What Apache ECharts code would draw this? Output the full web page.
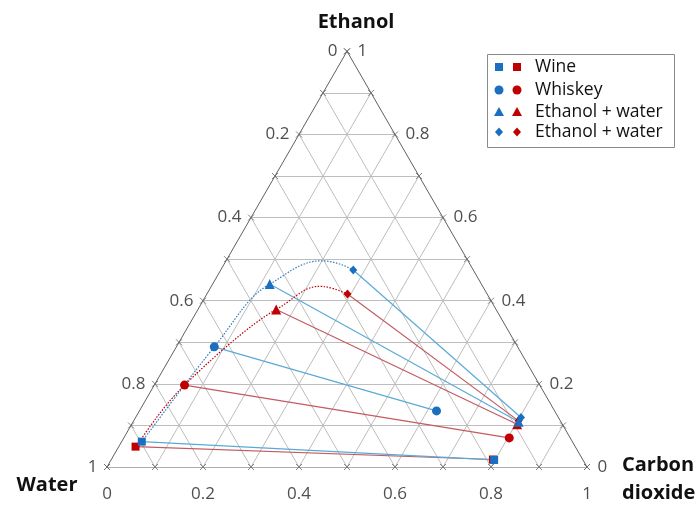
<!DOCTYPE html>
<html>
<head>
<meta charset="utf-8">
<script src="https://cdn.jsdelivr.net/npm/echarts@6/dist/echarts.min.js"></script>
<style>
html,body{margin:0;padding:0;background:#fff;}
#chart{width:696px;height:505px;}
</style>
</head>
<body>
<div id="chart"></div>
<script>
// ---- Data (ternary fractions) ----
const seriesNames = ['Wine', 'Whiskey', 'Ethanol + water', 'Ethanol + water'];
const blueLeftEthanol  = [0.061, 0.289, 0.440, 0.474];
const blueLeftCO2      = [0.042, 0.079, 0.119, 0.276];
const blueRightEthanol = [0.017, 0.135, 0.109, 0.119];
const blueRightCO2     = [0.798, 0.619, 0.803, 0.803];
const redLeftEthanol   = [0.049, 0.197, 0.379, 0.416];
const redLeftCO2       = [0.035, 0.063, 0.163, 0.293];
const redRightEthanol  = [0.018, 0.070, 0.103, 0.111];
const redRightCO2      = [0.795, 0.803, 0.803, 0.802];
const tickValues = [0, 0.2, 0.4, 0.6, 0.8, 1];
const tickLabels = ['0', '0.2', '0.4', '0.6', '0.8', '1'];
const gridSteps = [0.1, 0.2, 0.3, 0.4, 0.5, 0.6, 0.7, 0.8, 0.9];

// ---- styles ----
const BLUE = '#1a6fc0', RED = '#c00000';
const BLUE_LINE = '#5aaad6', RED_LINE = '#c45a62';
const shapes = ['rect', 'circle', 'triangle', 'diamond'];
const sizes = [8, 9, 10, [8, 9]];
const FONT = "'Open Sans', sans-serif";

const SQ = Math.sqrt(3) / 2;
function pt(e, c) { return [c + e / 2, e * SQ]; }

// grid lines
const gridLines = [];
gridSteps.forEach(k => {
  gridLines.push({coords: [pt(k, 0), pt(k, 1 - k)]});
  gridLines.push({coords: [pt(0, k), pt(1 - k, k)]});
  gridLines.push({coords: [pt(0, 1 - k), pt(1 - k, 0)]});
});
const edges = [
  {coords: [pt(0, 0), pt(0, 1)]},
  {coords: [pt(0, 1), pt(1, 0)]},
  {coords: [pt(1, 0), pt(0, 0)]}
];
const tickPts = [];
gridSteps.concat([0, 1]).forEach(k => {
  tickPts.push(pt(0, k));
  tickPts.push(pt(k, 0));
  tickPts.push(pt(k, 1 - k));
});

function tie(le, lc, re, rc) {
  return le.map((v, i) => ({coords: [pt(v, lc[i]), pt(re[i], rc[i])]}));
}

// smooth dotted curve (Catmull-Rom style Bezier) through the left-side points,
// the tangent at the last point uses its tie-line partner as the next neighbour
function curveSeries(le, lc, re, rc, color) {
  const pts = le.map((e, i) => pt(e, lc[i]));
  const after = pt(re[re.length - 1], rc[rc.length - 1]);
  return {
    type: 'custom', silent: true, z: 5,
    data: pts,
    encode: {x: 0, y: 1},
    renderItem: function (params, api) {
      if (params.dataIndex !== 0) return null;
      const P = pts.map(p => api.coord(p));
      const N = api.coord(after);
      const f = 1 / 6;
      let d = 'M' + P[0][0] + ' ' + P[0][1];
      for (let i = 0; i < P.length - 1; i++) {
        const p0 = i === 0 ? P[0] : P[i - 1];
        const p1 = P[i], p2 = P[i + 1];
        const p3 = i + 2 < P.length ? P[i + 2] : N;
        const c1 = [p1[0] + (p2[0] - p0[0]) * f, p1[1] + (p2[1] - p0[1]) * f];
        const c2 = [p2[0] - (p3[0] - p1[0]) * f, p2[1] - (p3[1] - p1[1]) * f];
        d += ' C' + c1[0] + ' ' + c1[1] + ' ' + c2[0] + ' ' + c2[1] + ' ' + p2[0] + ' ' + p2[1];
      }
      return {type: 'path', shape: {pathData: d},
        style: {stroke: color, fill: null, lineWidth: 1.2, lineDash: [1.5, 1.5]}};
    }
  };
}

const series = [];
series.push({type: 'lines', coordinateSystem: 'cartesian2d', data: gridLines, silent: true,
  lineStyle: {color: '#bdbdbd', width: 1, opacity: 1}, z: 1});
series.push({type: 'lines', coordinateSystem: 'cartesian2d', data: edges, silent: true,
  lineStyle: {color: '#5f5f5f', width: 1, opacity: 1}, z: 2});
series.push({type: 'scatter', data: tickPts, silent: true, symbol: 'path://M0,0L10,10M10,0L0,10',
  symbolSize: 6, itemStyle: {color: 'none', borderColor: '#666', borderWidth: 1}, z: 2});

// tick labels
series.push({type: 'scatter', silent: true, symbolSize: 1, itemStyle: {color: 'rgba(0,0,0,0)'},
  data: tickValues.map((w, i) => ({value: pt(1 - w, 0), name: tickLabels[i]})),
  label: {show: true, position: 'left', distance: 9, formatter: '{b}', fontSize: 17, fontFamily: FONT, color: '#222'}, z: 3});
series.push({type: 'scatter', silent: true, symbolSize: 1, itemStyle: {color: 'rgba(0,0,0,0)'},
  data: tickValues.map((e, i) => ({value: pt(e, 1 - e), name: tickLabels[i]})),
  label: {show: true, position: 'right', distance: 10, formatter: '{b}', fontSize: 17, fontFamily: FONT, color: '#222'}, z: 3});
series.push({type: 'scatter', silent: true, symbolSize: 1, itemStyle: {color: 'rgba(0,0,0,0)'},
  data: tickValues.map((c, i) => ({value: pt(0, c), name: tickLabels[i]})),
  label: {show: true, position: 'bottom', distance: 18, formatter: '{b}', fontSize: 17, fontFamily: FONT, color: '#222'}, z: 3});

// tie lines
series.push({type: 'lines', coordinateSystem: 'cartesian2d', silent: true,
  data: tie(redLeftEthanol, redLeftCO2, redRightEthanol, redRightCO2),
  lineStyle: {color: RED_LINE, width: 1.2, opacity: 1}, z: 4});
series.push({type: 'lines', coordinateSystem: 'cartesian2d', silent: true,
  data: tie(blueLeftEthanol, blueLeftCO2, blueRightEthanol, blueRightCO2),
  lineStyle: {color: BLUE_LINE, width: 1.2, opacity: 1}, z: 4});

// dotted curves
series.push(curveSeries(redLeftEthanol, redLeftCO2, redRightEthanol, redRightCO2, RED));
series.push(curveSeries(blueLeftEthanol, blueLeftCO2, blueRightEthanol, blueRightCO2, '#2a7cc6'));

// markers (red first so blue sits on top)
shapes.forEach((s, i) => {
  series.push({type: 'scatter', name: seriesNames[i], symbol: s, symbolSize: sizes[i],
    itemStyle: {color: RED, opacity: 1},
    data: [pt(redLeftEthanol[i], redLeftCO2[i]), pt(redRightEthanol[i], redRightCO2[i])], z: 6});
});
shapes.forEach((s, i) => {
  series.push({type: 'scatter', name: seriesNames[i], symbol: s, symbolSize: sizes[i],
    itemStyle: {color: BLUE, opacity: 1},
    data: [pt(blueLeftEthanol[i], blueLeftCO2[i]), pt(blueRightEthanol[i], blueRightCO2[i])], z: 7});
});

// legend built as graphics
const legendX = 487, legendY = 54, rowY = [67, 90, 112, 132];
const legendGraphics = [{type: 'rect', shape: {x: legendX + 0.5, y: legendY + 0.5, width: 187, height: 93},
  style: {fill: '#fff', stroke: '#8a8a8a', lineWidth: 1}, z: 10}];
function legendIcon(kind, cx, cy, color) {
  if (kind === 'rect') return {type: 'rect', shape: {x: cx - 4, y: cy - 4, width: 8, height: 8}, style: {fill: color}, z: 11};
  if (kind === 'circle') return {type: 'circle', shape: {cx: cx, cy: cy, r: 4.5}, style: {fill: color}, z: 11};
  if (kind === 'triangle') return {type: 'polygon', shape: {points: [[cx, cy - 5], [cx + 5, cy + 4], [cx - 5, cy + 4]]}, style: {fill: color}, z: 11};
  return {type: 'polygon', shape: {points: [[cx, cy - 4.5], [cx + 4, cy], [cx, cy + 4.5], [cx - 4, cy]]}, style: {fill: color}, z: 11};
}
shapes.forEach((s, i) => {
  legendGraphics.push(legendIcon(s, 499, rowY[i], BLUE));
  legendGraphics.push(legendIcon(s, 517, rowY[i], RED));
  legendGraphics.push({type: 'text', x: 535, y: rowY[i], z: 11,
    style: {text: seriesNames[i], font: "17.5px 'Open Sans', sans-serif", fill: '#111', textVerticalAlign: 'middle'}});
});

const titleFont = "bold 20px 'Open Sans', sans-serif";
const titles = [
  {type: 'text', x: 356, y: 22, style: {text: 'Ethanol', font: titleFont, fill: '#111', textAlign: 'center', textVerticalAlign: 'middle'}},
  {type: 'text', x: 47, y: 485, style: {text: 'Water', font: titleFont, fill: '#111', textAlign: 'center', textVerticalAlign: 'middle'}},
  {type: 'text', x: 622, y: 465, style: {text: 'Carbon', font: titleFont, fill: '#111', textAlign: 'left', textVerticalAlign: 'middle'}},
  {type: 'text', x: 622, y: 493, style: {text: 'dioxide', font: titleFont, fill: '#111', textAlign: 'left', textVerticalAlign: 'middle'}}
];

const chart = echarts.init(document.getElementById('chart'), null, {renderer: 'canvas'});
chart.setOption({
  animation: false,
  backgroundColor: '#fff',
  grid: {left: 107, top: 467 - 480 * SQ, width: 480, height: 480 * SQ},
  xAxis: {type: 'value', min: 0, max: 1, show: false},
  yAxis: {type: 'value', min: 0, max: SQ, show: false},
  graphic: legendGraphics.concat(titles),
  series: series
});
</script>
</body>
</html>
